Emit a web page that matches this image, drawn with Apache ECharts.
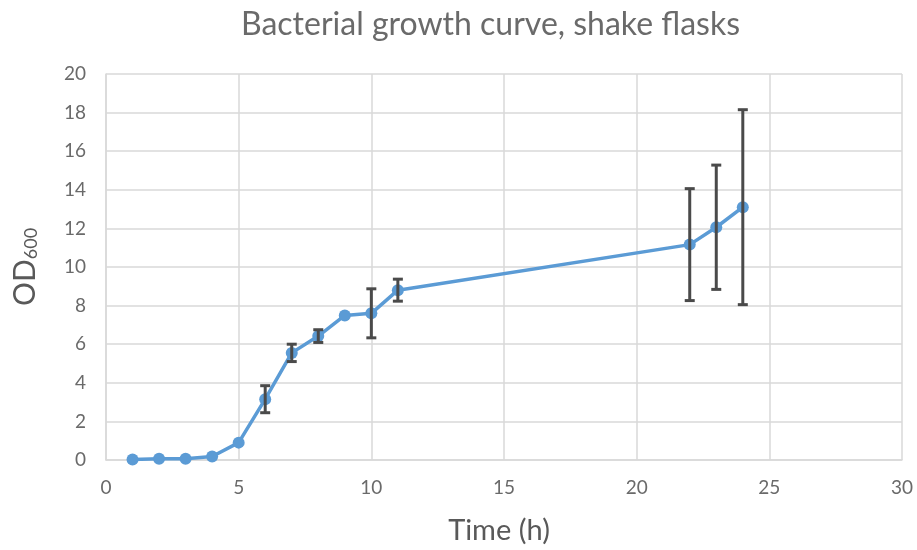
<!DOCTYPE html>
<html>
<head>
<meta charset="utf-8">
<script src="https://cdn.jsdelivr.net/npm/echarts@6/dist/echarts.min.js"></script>
<style>
  html, body { margin: 0; padding: 0; background: #fff; }
  #chart { width: 917px; height: 550px; }
</style>
</head>
<body>
<div id="chart"></div>
<script>
// Sampling times (h)
const timeHours = [1, 2, 3, 4, 5, 6, 7, 8, 9, 10, 11, 22, 23, 24];
// Mean optical density at 600 nm
const od600Mean = [0.02, 0.07, 0.07, 0.18, 0.9, 3.15, 5.55, 6.42, 7.49, 7.6, 8.8, 11.16, 12.06, 13.1];
// Error bar half-widths (standard deviation)
const od600Err = [0, 0, 0, 0, 0.05, 0.7, 0.45, 0.33, 0.05, 1.27, 0.57, 2.9, 3.22, 5.05];

const xTicks = [0, 5, 10, 15, 20, 25, 30];
const yTicks = [0, 2, 4, 6, 8, 10, 12, 14, 16, 18, 20];

const FONT = 'Lato';
const GREY = '#595959';

const lineData = timeHours.map((t, i) => [t, od600Mean[i]]);
const errData = timeHours.map((t, i) => [t, od600Mean[i] - od600Err[i], od600Mean[i] + od600Err[i]]);

const chart = echarts.init(document.getElementById('chart'), null, { renderer: 'canvas' });

chart.setOption({
  animation: false,
  backgroundColor: '#fff',
  title: {
    text: 'Bacterial growth curve, shake flasks',
    left: 236,
    top: 4,
    textStyle: { fontFamily: FONT, fontSize: 32, fontWeight: 'normal', color: '#6a6a6a' }
  },
  grid: { left: 106, right: 15, top: 74, bottom: 89, containLabel: false },
  xAxis: {
    type: 'value',
    min: xTicks[0],
    max: xTicks[xTicks.length - 1],
    interval: 5,
    name: 'Time (h)',
    nameLocation: 'middle',
    nameGap: 56,
    nameTextStyle: { fontFamily: FONT, fontSize: 29, color: GREY, padding: [0, 10, 0, 0] },
    axisLine: { show: true, lineStyle: { color: '#d9d9d9', width: 1.5 } },
    axisTick: { show: false },
    splitLine: { show: true, lineStyle: { color: '#d9d9d9', width: 1.5 } },
    axisLabel: {
      fontFamily: FONT, fontSize: 19, color: '#6a6a6a', margin: 18,
      formatter: v => xTicks.includes(v) ? String(v) : ''
    }
  },
  yAxis: {
    type: 'value',
    min: yTicks[0],
    max: yTicks[yTicks.length - 1],
    interval: 2,
    name: 'OD{sub|600}',
    nameLocation: 'middle',
    nameGap: 66,
    nameRotate: 90,
    nameTextStyle: {
      fontFamily: FONT, fontSize: 30, color: GREY,
      rich: { sub: { fontFamily: FONT, fontSize: 18, color: GREY, verticalAlign: 'bottom', padding: [9, 0, 0, 0] } }
    },
    axisLine: { show: true, lineStyle: { color: '#d9d9d9', width: 1.5 } },
    axisTick: { show: false },
    splitLine: { show: true, lineStyle: { color: '#d9d9d9', width: 1.5 } },
    axisLabel: {
      fontFamily: FONT, fontSize: 19, color: '#6a6a6a', margin: 20,
      formatter: v => yTicks.includes(v) ? String(v) : ''
    }
  },
  series: [
    {
      type: 'line',
      data: lineData,
      symbol: 'circle',
      symbolSize: 12,
      lineStyle: { color: '#5b9bd5', width: 3.5 },
      itemStyle: { color: '#5b9bd5' },
      z: 2
    },
    {
      type: 'custom',
      data: errData,
      z: 3,
      renderItem: (params, api) => {
        const x = api.value(0);
        const lo = api.coord([x, api.value(1)]);
        const hi = api.coord([x, api.value(2)]);
        if (Math.abs(hi[1] - lo[1]) < 4) return null;
        const cap = 5;
        const style = { stroke: '#4a4a4a', lineWidth: 3 };
        return {
          type: 'group',
          children: [
            { type: 'line', shape: { x1: lo[0], y1: lo[1], x2: hi[0], y2: hi[1] }, style },
            { type: 'line', shape: { x1: hi[0] - cap, y1: hi[1], x2: hi[0] + cap, y2: hi[1] }, style },
            { type: 'line', shape: { x1: lo[0] - cap, y1: lo[1], x2: lo[0] + cap, y2: lo[1] }, style }
          ]
        };
      }
    }
  ]
});
</script>
</body>
</html>
